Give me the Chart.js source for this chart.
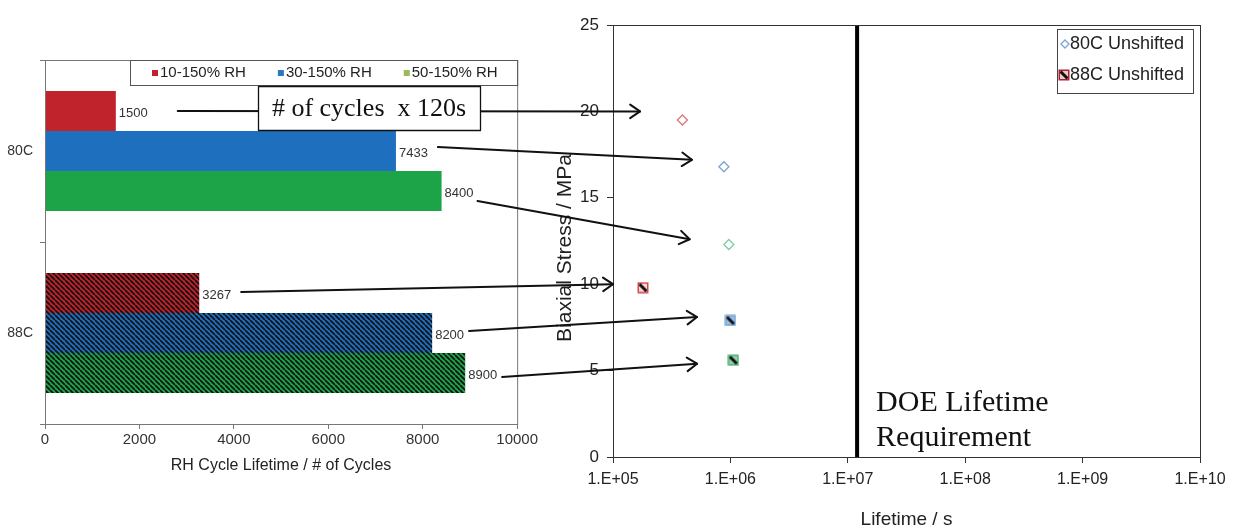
<!DOCTYPE html>
<html>
<head>
<meta charset="utf-8">
<script src="https://cdn.jsdelivr.net/npm/chart.js@4.4.1/dist/chart.umd.min.js"></script>
<style>
  html, body { margin: 0; padding: 0; background: #fff; }
  #wrap { position: relative; width: 1233px; height: 529px; overflow: hidden; background: #fff; }
  #wrap canvas { position: absolute; top: 0; }
  #bars { left: 0; width: 540px; height: 529px; }
  #life { left: 540px; width: 693px; height: 529px; }
  #notes { left: 0; width: 1233px; height: 529px; pointer-events: none; }
</style>
</head>
<body>
<div id="wrap">
  <canvas id="bars" width="540" height="529"></canvas>
  <canvas id="life" width="693" height="529"></canvas>
  <canvas id="notes" width="1233" height="529"></canvas>
</div>
<script>
// ---- data: RH cycling lifetime (left) ----
const categories = ['80C', '88C'];
const rhSeries = ['10-150% RH', '30-150% RH', '50-150% RH'];
const cycles10to150 = [1500, 3267];
const cycles30to150 = [7433, 8200];
const cycles50to150 = [8400, 8900];
const cycleTicks = [0, 2000, 4000, 6000, 8000, 10000];

// ---- data: biaxial stress vs lifetime (right) ----
const lifetime80C = [3.9e5, 8.8e5, 9.7e5];
const stress80C = [19.5, 16.8, 12.3];
const lifetime88C = [1.8e5, 1.0e6, 1.06e6];
const stress88C = [9.8, 7.9, 5.6];
const lifetimeTickValues = [1e5, 1e6, 1e7, 1e8, 1e9, 1e10];
const lifetimeTickLabels = ['1.E+05', '1.E+06', '1.E+07', '1.E+08', '1.E+09', '1.E+10'];
const stressTicks = [0, 5, 10, 15, 20, 25];
const doeLifetime = 1.2e7;

// ---- styling ----
const SANS = "'Liberation Sans', Arial, sans-serif";
const SERIF = "'Liberation Serif', 'Times New Roman', serif";
const barColors = ['#c0232c', '#1f6fbf', '#1ea448'];
const legendSwatches = ['#c0232c', '#2e75c2', '#9bbb59'];
const diamondColors = ['#d67f80', '#7fa6d6', '#7fcfa8'];
const squareFills = ['#f6d6d6', '#9cc0e4', '#8fd3a8'];
const squareEdges = ['#d04850', '#6f9fd0', '#4fae70'];

Chart.defaults.font.family = SANS;
Chart.defaults.color = '#222';

function hatchPattern(color) {
  const s = 5;
  const tile = document.createElement('canvas');
  tile.width = tile.height = s;
  const g = tile.getContext('2d');
  g.fillStyle = color;
  g.fillRect(0, 0, s, s);
  g.strokeStyle = '#111';
  g.lineWidth = 1.7;
  g.beginPath();
  for (const k of [-1, 0, 1]) { g.moveTo(k * s, 0); g.lineTo(k * s + s, s); }
  g.stroke();
  return g.createPattern(tile, 'repeat');
}

function hatchedSquare(fill, edge) {
  const s = 12;
  const c = document.createElement('canvas');
  c.width = c.height = s;
  const g = c.getContext('2d');
  g.fillStyle = fill;
  g.fillRect(1, 1, s - 2, s - 2);
  g.strokeStyle = '#111';
  g.lineWidth = 3;
  g.beginPath(); g.moveTo(2.5, 2.5); g.lineTo(s - 2.5, s - 2.5); g.stroke();
  g.strokeStyle = edge;
  g.lineWidth = 1.5;
  g.strokeRect(1.25, 1.25, s - 2.5, s - 2.5);
  return c;
}

// ---------------- left: horizontal bars ----------------
const seriesValues = [cycles10to150, cycles30to150, cycles50to150];

const barFrame = {
  id: 'barFrame',
  afterDraw(chart) {
    const { ctx, chartArea: a } = chart;
    ctx.save();
    ctx.strokeStyle = '#777';
    ctx.lineWidth = 1;
    ctx.strokeRect(a.left + 0.5, a.top + 0.5, a.right - a.left, a.bottom - a.top);
    // legend box in the top right corner of the plot
    const boxL = 130, boxH = 25;
    ctx.fillStyle = '#fff';
    ctx.fillRect(boxL, a.top, a.right - boxL, boxH);
    ctx.strokeStyle = '#555';
    ctx.strokeRect(boxL + 0.5, a.top + 0.5, a.right - boxL, boxH);
    ctx.font = '15px ' + SANS;
    ctx.textBaseline = 'middle';
    let x = 152;
    const cy = a.top + boxH / 2 + 0.5;
    rhSeries.forEach((name, i) => {
      ctx.fillStyle = legendSwatches[i];
      ctx.fillRect(x, cy - 3, 6, 6);
      ctx.fillStyle = '#222';
      ctx.fillText(name, x + 8, cy);
      x += 8 + ctx.measureText(name).width + 32;
    });
    ctx.restore();
  },
  afterDatasetsDraw(chart) {
    const ctx = chart.ctx;
    ctx.save();
    ctx.font = '13px ' + SANS;
    ctx.fillStyle = '#333';
    ctx.textBaseline = 'middle';
    chart.data.datasets.forEach((ds, i) => {
      chart.getDatasetMeta(i).data.forEach((bar, j) => {
        ctx.fillText(String(ds.data[j]), bar.x + 3, bar.y + 2);
      });
    });
    ctx.restore();
  }
};

const barChart = new Chart(document.getElementById('bars'), {
  type: 'bar',
  data: {
    labels: categories,
    datasets: rhSeries.map((label, i) => ({
      label,
      data: seriesValues[i],
      backgroundColor: [barColors[i], hatchPattern(barColors[i])],
      borderWidth: 0,
      categoryPercentage: 0.66,
      barPercentage: 1.0
    }))
  },
  options: {
    indexAxis: 'y',
    responsive: false,
    animation: false,
    events: [],
    layout: { padding: { top: 60, right: 22, left: 0, bottom: 0 } },
    plugins: { legend: { display: false }, tooltip: { enabled: false } },
    scales: {
      x: {
        min: 0, max: 10000,
        afterBuildTicks: s => { s.ticks = cycleTicks.map(v => ({ value: v })); },
        afterFit: s => { s.height = 105; },
        ticks: { callback: v => String(v), font: { size: 15 }, color: '#333', padding: 2, maxRotation: 0 },
        grid: { drawOnChartArea: false, tickLength: 5, color: '#777' },
        border: { color: '#777' },
        title: { display: true, text: 'RH Cycle Lifetime / # of Cycles', font: { size: 16 }, color: '#222', padding: { top: 0, bottom: 54 } }
      },
      y: {
        afterFit: s => { s.width = 45; },
        ticks: { font: { size: 14 }, color: '#333', padding: 7 },
        grid: { drawOnChartArea: false, tickLength: 5, color: '#777', offset: true },
        border: { color: '#777' }
      }
    }
  },
  plugins: [barFrame]
});

// ---------------- right: stress vs lifetime ----------------
const squareIcons = squareFills.map((f, i) => hatchedSquare(f, squareEdges[i]));

const lifeDecor = {
  id: 'lifeDecor',
  beforeDatasetsDraw(chart) {
    const { ctx, chartArea: a, scales } = chart;
    const x = scales.x.getPixelForValue(doeLifetime);
    ctx.save();
    ctx.strokeStyle = '#000';
    ctx.lineWidth = 4;
    ctx.beginPath(); ctx.moveTo(x, a.top); ctx.lineTo(x, a.bottom); ctx.stroke();
    ctx.font = '30px ' + SERIF;
    ctx.fillStyle = '#111';
    ctx.textBaseline = 'alphabetic';
    ctx.fillText('DOE Lifetime', x + 19, a.bottom - 46);
    ctx.fillText('Requirement', x + 19, a.bottom - 11);
    ctx.restore();
  },
  afterDraw(chart) {
    const { ctx, chartArea: a } = chart;
    ctx.save();
    ctx.strokeStyle = '#333';
    ctx.lineWidth = 1;
    ctx.strokeRect(a.left + 0.5, a.top + 0.5, a.right - a.left, a.bottom - a.top);
    // vertical axis title
    ctx.save();
    ctx.translate(25, (a.top + a.bottom) / 2 + 7);
    ctx.rotate(-Math.PI / 2);
    ctx.font = '21px ' + SANS;
    ctx.fillStyle = '#222';
    ctx.textAlign = 'center';
    ctx.textBaseline = 'middle';
    ctx.fillText('Biaxial Stress / MPa', 0, 0);
    ctx.restore();
    // legend
    const bx = a.right - 143, by = a.top + 4, bw = 136, bh = 64;
    ctx.fillStyle = '#fff';
    ctx.fillRect(bx, by, bw, bh);
    ctx.strokeStyle = '#444';
    ctx.strokeRect(bx + 0.5, by + 0.5, bw, bh);
    ctx.font = '18px ' + SANS;
    ctx.fillStyle = '#222';
    ctx.textBaseline = 'middle';
    const sets = chart.data.datasets;
    const y1 = by + 15, y2 = by + 46;
    // diamond
    ctx.strokeStyle = diamondColors[1];
    ctx.lineWidth = 1.3;
    ctx.beginPath();
    ctx.moveTo(bx + 8, y1 - 4); ctx.lineTo(bx + 12, y1); ctx.lineTo(bx + 8, y1 + 4); ctx.lineTo(bx + 4, y1); ctx.closePath();
    ctx.stroke();
    ctx.fillText(sets[0].label, bx + 13, y1);
    // hatched square
    ctx.drawImage(hatchedSquare('#e8c8c8', '#b02030'), bx + 1, y2 - 6, 12, 12);
    ctx.fillText(sets[1].label, bx + 13, y2);
    ctx.restore();
  }
};

const lifeChart = new Chart(document.getElementById('life'), {
  type: 'scatter',
  data: {
    datasets: [
      {
        label: '80C Unshifted',
        data: lifetime80C.map((x, i) => ({ x, y: stress80C[i] })),
        pointStyle: 'rectRot',
        pointRadius: 5,
        pointBorderWidth: 1.4,
        pointBorderColor: diamondColors,
        pointBackgroundColor: 'rgba(255,255,255,0)'
      },
      {
        label: '88C Unshifted',
        data: lifetime88C.map((x, i) => ({ x, y: stress88C[i] })),
        pointStyle: squareIcons,
        pointRadius: 6
      }
    ]
  },
  options: {
    responsive: false,
    animation: false,
    events: [],
    layout: { padding: { top: 25, right: 33, left: 0, bottom: 0 } },
    plugins: { legend: { display: false }, tooltip: { enabled: false } },
    scales: {
      x: {
        type: 'logarithmic',
        min: 1e5, max: 1e10,
        afterBuildTicks: s => { s.ticks = lifetimeTickValues.map(v => ({ value: v })); },
        afterFit: s => { s.height = 72; },
        ticks: { callback: (v, i) => lifetimeTickLabels[i], font: { size: 16 }, color: '#222', padding: 7, maxRotation: 0, autoSkip: false },
        grid: { drawOnChartArea: false, tickLength: 6, color: '#333' },
        border: { color: '#333' },
        title: { display: true, text: 'Lifetime / s', font: { size: 19 }, color: '#222', padding: { top: 0, bottom: -2 } }
      },
      y: {
        min: 0, max: 25,
        afterBuildTicks: s => { s.ticks = stressTicks.map(v => ({ value: v })); },
        afterFit: s => { s.width = 73; },
        ticks: { font: { size: 17 }, color: '#222', padding: 8 },
        grid: { drawOnChartArea: false, tickLength: 6, color: '#333' },
        border: { color: '#333' }
      }
    }
  },
  plugins: [lifeDecor]
});

// ---------------- connecting arrows and note ----------------
// each link runs from a bar's value label to a spot in stress/lifetime space
const arrowLinks = [
  { series: 0, cat: 0, gap: 30, dy: 0,  toLife: 1.7e5, toStress: 20.0 },
  { series: 1, cat: 0, gap: 10, dy: -4, toLife: 4.7e5, toStress: 17.2 },
  { series: 2, cat: 0, gap: 4,  dy: 10, toLife: 4.5e5, toStress: 12.6 },
  { series: 0, cat: 1, gap: 10, dy: -1, toLife: 1.0e5, toStress: 10.0 },
  { series: 1, cat: 1, gap: 5,  dy: -2, toLife: 5.2e5, toStress: 8.1 },
  { series: 2, cat: 1, gap: 5,  dy: 4,  toLife: 5.2e5, toStress: 5.4 }
];
const lifeOffsetX = 540;

function drawArrow(g, x1, y1, x2, y2) {
  g.beginPath(); g.moveTo(x1, y1); g.lineTo(x2, y2); g.stroke();
  const a = Math.atan2(y2 - y1, x2 - x1), L = 12, w = 0.6;
  g.beginPath();
  g.moveTo(x2 - L * Math.cos(a - w), y2 - L * Math.sin(a - w));
  g.lineTo(x2, y2);
  g.lineTo(x2 - L * Math.cos(a + w), y2 - L * Math.sin(a + w));
  g.stroke();
}

(function drawNotes() {
  const g = document.getElementById('notes').getContext('2d');
  g.strokeStyle = '#111';
  g.lineWidth = 2;
  g.lineCap = 'round';
  g.lineJoin = 'round';
  g.font = '13px ' + SANS;
  arrowLinks.forEach(l => {
    const bar = barChart.getDatasetMeta(l.series).data[l.cat];
    const text = String(seriesValues[l.series][l.cat]);
    const x1 = bar.x + 3 + g.measureText(text).width + l.gap;
    const y1 = bar.y + l.dy;
    const x2 = lifeOffsetX + lifeChart.scales.x.getPixelForValue(l.toLife);
    const y2 = lifeChart.scales.y.getPixelForValue(l.toStress);
    drawArrow(g, x1, y1, x2, y2);
  });
  // multiplier note sitting on the first link
  const nx = 258, ny = 86, nw = 222, nh = 44;
  g.fillStyle = '#fff';
  g.fillRect(nx, ny, nw, nh);
  g.lineWidth = 1.3;
  g.strokeRect(nx + 0.5, ny + 0.5, nw, nh);
  g.fillStyle = '#111';
  g.font = '26px ' + SERIF;
  g.textAlign = 'center';
  g.textBaseline = 'middle';
  g.fillText('# of cycles  x 120s', nx + nw / 2, ny + nh / 2 + 1);
})();
</script>
</body>
</html>
